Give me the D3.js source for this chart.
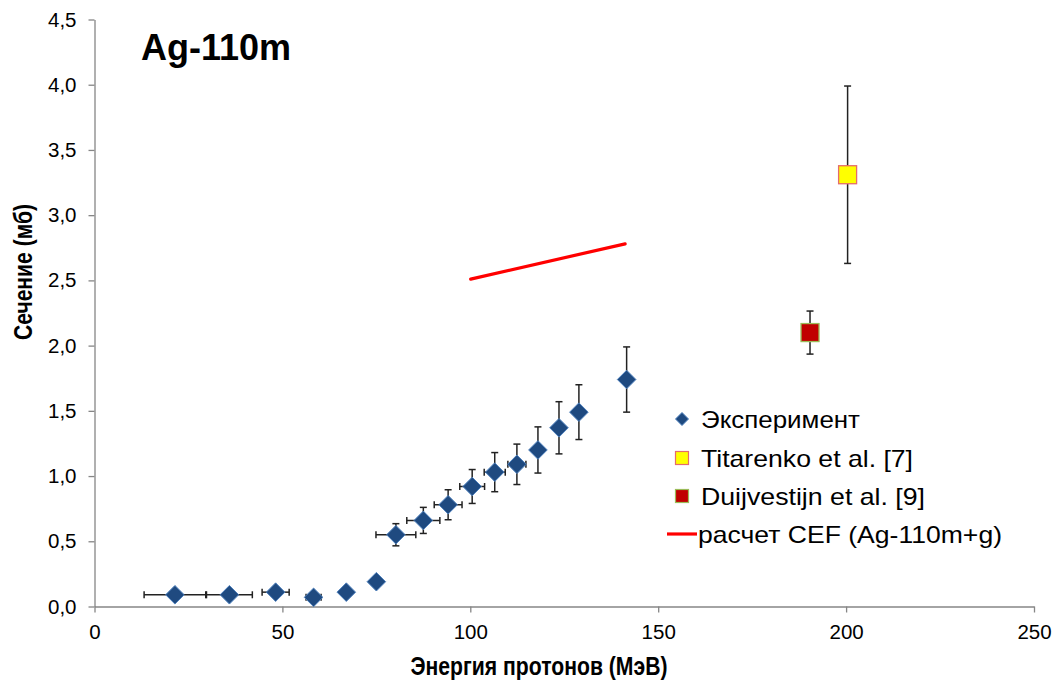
<!DOCTYPE html>
<html>
<head>
<meta charset="utf-8">
<script src="https://cdn.jsdelivr.net/npm/d3@7"></script>
<style>
  body { margin: 0; background: #fff; }
  svg { display: block; font-family: "Liberation Sans", Arial, sans-serif; }
</style>
</head>
<body>
<div id="chart"></div>
<script>
// Experiment (diamonds with error bars)
const expEnergy    = [21.4, 35.9, 48.2, 58.3, 67.0, 75.0, 80.2, 87.5, 94.1, 100.5, 106.5, 112.4, 118.0, 123.6, 128.9, 141.6];
const expSigma     = [0.09, 0.09, 0.11, 0.07, 0.11, 0.19, 0.55, 0.66, 0.78, 0.92, 1.03, 1.09, 1.20, 1.37, 1.49, 1.74];
const expEnergyErr = [8.2, 6.1, 3.6, 2.0, 0, 0, 5.3, 4.4, 3.7, 3.3, 2.8, 2.4, 0, 0, 0, 0];
const expSigmaErr  = [0, 0, 0, 0, 0, 0, 0.085, 0.10, 0.115, 0.13, 0.15, 0.155, 0.177, 0.20, 0.21, 0.25];

// other measurements
const titarenkoEnergy = [200.4];
const titarenkoSigma  = [3.31];
const titarenkoErr    = [0.68];
const duijvEnergy = [190.4];
const duijvSigma  = [2.10];
const duijvErr    = [0.165];

// CEF calculation
const cefEnergy = [100.1, 141.2];
const cefSigma  = [2.51, 2.78];

const xTicks = [0, 50, 100, 150, 200, 250];
const yTicks = [0, 0.5, 1, 1.5, 2, 2.5, 3, 3.5, 4, 4.5];

const legendLabels = ["Эксперимент", "Titarenko et al. [7]", "Duijvestijn et al. [9]", "расчет CEF (Ag-110m+g)"];
const legendWidths = [159, 212, 224, 304]; // measured text widths in the picture

const W = 1056, H = 689;
const svg = d3.select("#chart").append("svg")
  .attr("width", W).attr("height", H);

const x = d3.scaleLinear().domain([0, 250]).range([94.5, 1034]);
const y = d3.scaleLinear().domain([0, 4.5]).range([606.5, 19.5]);

const axisColor = "#868686";
const comma = v => d3.format(".1f")(v).replace(".", ",");

// y axis
const yAxis = svg.append("g")
  .attr("transform", "translate(" + x(0) + ",0)")
  .call(d3.axisLeft(y).tickValues(yTicks).tickFormat(comma).tickSize(6).tickSizeOuter(0).tickPadding(12));
// x axis
const xAxis = svg.append("g")
  .attr("transform", "translate(0," + y(0) + ")")
  .call(d3.axisBottom(x).tickValues(xTicks).tickFormat(d3.format("d")).tickSize(6).tickSizeOuter(0).tickPadding(12));

[xAxis, yAxis].forEach(g => {
  g.select(".domain").attr("stroke", axisColor).attr("stroke-width", 1.3);
  g.selectAll(".tick line").attr("stroke", axisColor).attr("stroke-width", 1.3);
  g.selectAll(".tick text")
    .attr("fill", "#000")
    .style("font-size", "20.5px")
    .style("font-family", "'Liberation Sans', Arial, sans-serif");
});

// titles
svg.append("text")
  .attr("x", 141).attr("y", 60)
  .style("font-size", "36px").style("font-weight", "bold")
  .text("Ag-110m");

svg.append("text")
  .attr("x", 539).attr("y", 675)
  .attr("text-anchor", "middle")
  .attr("textLength", 257).attr("lengthAdjust", "spacingAndGlyphs")
  .style("font-size", "26px").style("font-weight", "bold")
  .text("Энергия протонов (МэВ)");

svg.append("text")
  .attr("transform", "translate(32,272) rotate(-90)")
  .attr("text-anchor", "middle")
  .attr("textLength", 136).attr("lengthAdjust", "spacingAndGlyphs")
  .style("font-size", "26px").style("font-weight", "bold")
  .text("Сечение (мб)");

// error bars
const errColor = "#222";
const capHalf = 3.5;
function errBars(layer, xs, ys, yerr, xerr) {
  xs.forEach((xv, i) => {
    const cx = x(xv), cy = y(ys[i]);
    const ye = yerr ? yerr[i] : 0, xe = xerr ? xerr[i] : 0;
    if (ye > 0) {
      layer.append("line").attr("x1", cx).attr("x2", cx)
        .attr("y1", y(ys[i] + ye)).attr("y2", y(ys[i] - ye));
      [ys[i] + ye, ys[i] - ye].forEach(v => {
        layer.append("line").attr("x1", cx - capHalf).attr("x2", cx + capHalf)
          .attr("y1", y(v)).attr("y2", y(v));
      });
    }
    if (xe > 0) {
      layer.append("line").attr("y1", cy).attr("y2", cy)
        .attr("x1", x(xv - xe)).attr("x2", x(xv + xe));
      [xv - xe, xv + xe].forEach(v => {
        layer.append("line").attr("y1", cy - capHalf).attr("y2", cy + capHalf)
          .attr("x1", x(v)).attr("x2", x(v));
      });
    }
  });
}
const errLayer = svg.append("g").attr("stroke", errColor).attr("stroke-width", 1.5);
errBars(errLayer, expEnergy, expSigma, expSigmaErr, expEnergyErr);
errBars(errLayer, titarenkoEnergy, titarenkoSigma, titarenkoErr, null);
errBars(errLayer, duijvEnergy, duijvSigma, duijvErr, null);

// CEF line
svg.append("path")
  .datum(cefEnergy.map((e, i) => [e, cefSigma[i]]))
  .attr("fill", "none").attr("stroke", "#ff0000").attr("stroke-width", 3.2)
  .attr("stroke-linecap", "round")
  .attr("d", d3.line().x(d => x(d[0])).y(d => y(d[1])));

// markers
const diamond = (r) => `M0,${-r}L${r},0L0,${r}L${-r},0Z`;
svg.append("g").selectAll("path")
  .data(expEnergy.map((e, i) => [e, expSigma[i]]))
  .join("path")
  .attr("transform", d => "translate(" + x(d[0]) + "," + y(d[1]) + ")")
  .attr("d", diamond(9.3))
  .attr("fill", "#1f4a80").attr("stroke", "#4f81bd").attr("stroke-width", 1);

function squares(xs, ys, fill, stroke) {
  svg.append("g").selectAll("rect")
    .data(xs.map((e, i) => [e, ys[i]]))
    .join("rect")
    .attr("x", d => x(d[0]) - 9).attr("y", d => y(d[1]) - 9)
    .attr("width", 18).attr("height", 18)
    .attr("fill", fill).attr("stroke", stroke).attr("stroke-width", 1.3);
}
squares(titarenkoEnergy, titarenkoSigma, "#ffff00", "#e46c6c");
squares(duijvEnergy, duijvSigma, "#c00000", "#9bbb59");

// legend
const leg = svg.append("g").attr("transform", "translate(682,0)");
const rowY = [419, 458, 496, 534];
leg.append("path").attr("transform", "translate(0," + rowY[0] + ")")
  .attr("d", diamond(6.5)).attr("fill", "#1f4a80").attr("stroke", "#4f81bd");
leg.append("rect").attr("x", -6.5).attr("y", rowY[1] - 6.5).attr("width", 13).attr("height", 13)
  .attr("fill", "#ffff00").attr("stroke", "#e46c6c").attr("stroke-width", 1.2);
leg.append("rect").attr("x", -6.5).attr("y", rowY[2] - 6.5).attr("width", 13).attr("height", 13)
  .attr("fill", "#c00000").attr("stroke", "#9bbb59").attr("stroke-width", 1.2);
leg.append("line").attr("x1", -15).attr("x2", 15).attr("y1", rowY[3]).attr("y2", rowY[3])
  .attr("stroke", "#ff0000").attr("stroke-width", 3.2);
leg.selectAll("text.lbl")
  .data(legendLabels)
  .join("text")
  .attr("class", "lbl")
  .attr("x", (d, i) => i === 3 ? 16 : 19)
  .attr("y", (d, i) => rowY[i] + 8.5)
  .attr("textLength", (d, i) => legendWidths[i])
  .attr("lengthAdjust", "spacingAndGlyphs")
  .style("font-size", "24px")
  .text(d => d);
</script>
</body>
</html>
